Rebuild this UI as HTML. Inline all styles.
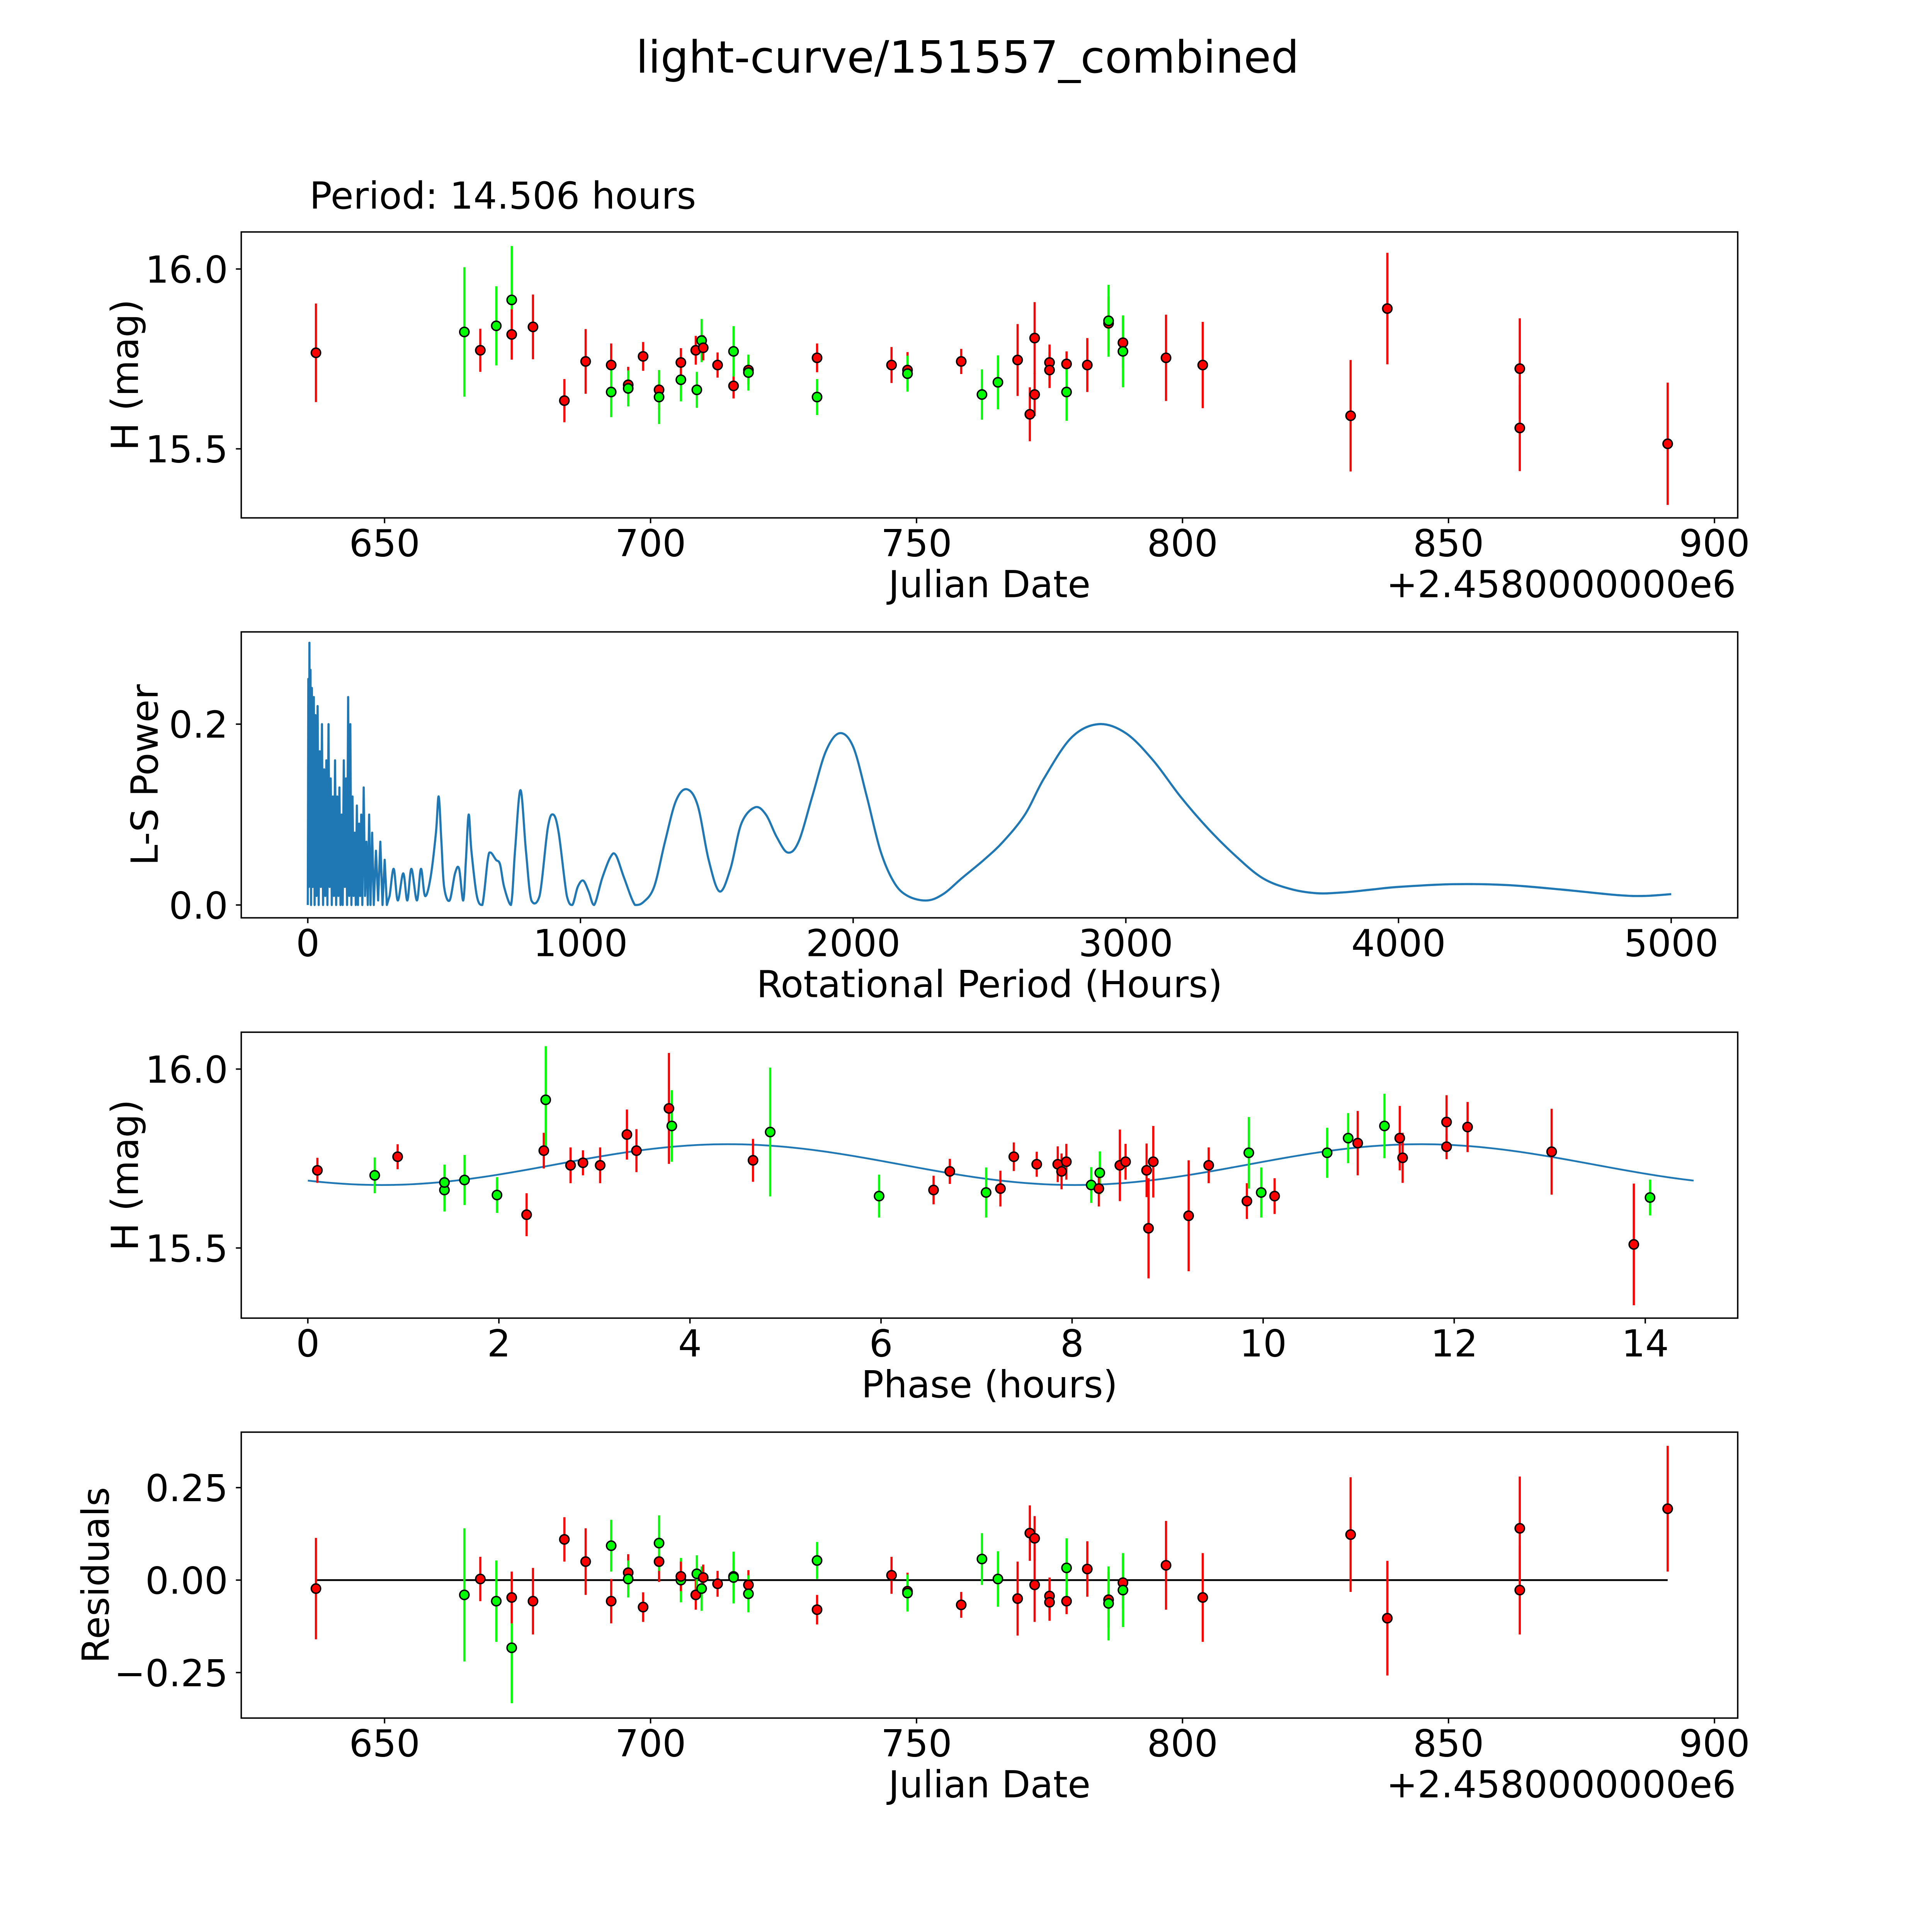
<!DOCTYPE html>
<html><head><meta charset="utf-8"><style>
html,body{margin:0;padding:0;background:#fff;overflow:hidden;}
svg{display:block;}
text{font-family:"DejaVu Sans","Liberation Sans",sans-serif;fill:#000;}
</style></head><body>
<svg id="fig" xmlns="http://www.w3.org/2000/svg" width="5400" height="5400" viewBox="0 0 5838 5838">
<rect x="0" y="0" width="5838" height="5838" fill="#fff"/>
<g id="root">
<text x="2707" y="203" font-size="124" text-anchor="middle">light-curve/151557_combined</text>
<text x="866" y="584" font-size="104">Period: 14.506 hours</text>
</g>
</svg>
<script>
// ---------- data ----------
const obsJD = [637.1,665.0,668.0,671.0,673.9,673.9,677.9,683.8,687.8,692.6,692.6,695.8,695.8,698.6,701.6,701.6,705.7,705.7,708.5,708.7,709.6,709.9,712.6,715.6,715.6,718.4,718.4,731.3,731.3,745.3,748.3,748.3,758.4,762.3,765.3,769.0,771.3,772.2,772.2,775.0,775.0,778.2,778.2,782.1,786.1,786.1,788.8,788.8,796.9,803.8,831.6,838.5,863.4,863.4,891.2];
const obsMag = [15.767,15.825,15.774,15.842,15.914,15.818,15.839,15.634,15.743,15.733,15.658,15.678,15.668,15.757,15.664,15.644,15.692,15.740,15.774,15.664,15.801,15.781,15.733,15.675,15.771,15.719,15.712,15.753,15.644,15.733,15.719,15.709,15.743,15.651,15.685,15.747,15.596,15.651,15.808,15.740,15.719,15.736,15.658,15.733,15.849,15.856,15.795,15.771,15.753,15.733,15.592,15.890,15.723,15.558,15.514];
const obsErr = [0.137,0.18,0.06,0.11,0.15,0.07,0.09,0.06,0.09,0.06,0.07,0.05,0.05,0.04,0.055,0.075,0.06,0.04,0.04,0.05,0.06,0.035,0.035,0.035,0.07,0.04,0.05,0.04,0.05,0.05,0.05,0.05,0.035,0.07,0.075,0.1,0.075,0.06,0.1,0.05,0.05,0.035,0.08,0.075,0.075,0.1,0.07,0.1,0.12,0.12,0.155,0.155,0.14,0.12,0.17];
const obsBand = ['r','g','r','g','g','r','r','r','r','r','g','r','g','r','r','g','g','r','r','g','g','r','r','r','g','r','g','r','g','r','r','g','r','g','g','r','r','r','r','r','r','r','g','r','r','g','r','g','r','r','r','r','r','r','r'];
const obsResid = [-0.023,-0.04,0.003,-0.057,-0.183,-0.047,-0.057,0.11,0.05,-0.057,0.093,0.02,0.003,-0.073,0.05,0.1,0,0.01,-0.04,0.017,-0.023,0.007,-0.01,0.01,0.007,-0.013,-0.037,-0.08,0.053,0.013,-0.03,-0.035,-0.067,0.057,0.003,-0.05,0.127,0.113,-0.013,-0.043,-0.06,-0.057,0.033,0.03,-0.053,-0.063,-0.007,-0.027,0.04,-0.047,0.123,-0.103,0.14,-0.027,0.193];

const phaseHours = [0.10,0.70,0.94,1.43,1.43,1.64,1.98,2.29,2.47,2.49,2.75,2.88,3.06,3.34,3.44,3.78,3.81,4.66,4.84,5.98,6.55,6.72,7.10,7.25,7.39,7.63,7.85,7.89,7.94,8.20,8.29,8.28,8.50,8.56,8.78,8.80,8.85,9.22,9.43,9.83,9.85,9.98,10.12,10.67,10.89,10.99,11.27,11.43,11.46,11.92,11.92,12.14,13.02,13.88,14.05];
const phaseMag = [15.717,15.703,15.755,15.662,15.683,15.690,15.648,15.593,15.772,15.914,15.731,15.738,15.731,15.817,15.772,15.890,15.841,15.745,15.824,15.645,15.662,15.714,15.655,15.666,15.755,15.734,15.734,15.714,15.741,15.676,15.710,15.666,15.731,15.741,15.717,15.555,15.741,15.590,15.731,15.631,15.766,15.655,15.645,15.766,15.807,15.793,15.841,15.807,15.752,15.783,15.852,15.838,15.769,15.510,15.641];
const phaseErr = [0.035,0.05,0.035,0.06,0.05,0.07,0.05,0.06,0.05,0.15,0.05,0.035,0.05,0.07,0.06,0.155,0.1,0.06,0.18,0.06,0.04,0.035,0.07,0.05,0.04,0.035,0.05,0.05,0.05,0.05,0.06,0.05,0.1,0.05,0.075,0.14,0.1,0.155,0.05,0.05,0.1,0.07,0.05,0.07,0.07,0.09,0.09,0.09,0.07,0.035,0.075,0.07,0.12,0.17,0.05];
const phaseBand = ['r','g','r','g','g','g','g','r','r','g','r','r','r','r','r','r','g','r','g','g','r','r','g','r','r','r','r','r','r','g','g','r','r','r','r','r','r','r','r','r','g','g','r','g','g','r','g','r','r','r','r','r','r','r','g'];
// fitted model parameters: [mean mag, amplitude, harmonic period (h), peak phase (h), full period (h)]
const fitParams = [15.733, 0.057, 7.253, 4.4, 14.506];

const lsPeriod = [0,2,4,6,8,10,12,15,18,22,25,28,32,36,40,44,48,52,56,60,64,68,72,76,80,84,88,92,96,100,104,108,112,116,120,124,128,132,136,140,144,148,152,156,160,164,168,172,176,180,184,188,192,196,200,205,210,215,220,225,230,236,242,250,258,266,274,282,290,300,315,330,350,365,380,400,415,430,450,470,480,490,500,520,540,555,570,580,590,600,620,640,660,670,690,705,720,745,760,780,800,820,850,880,900,920,950,970,990,1010,1030,1050,1080,1110,1130,1160,1200,1230,1270,1310,1350,1390,1430,1470,1510,1550,1590,1640,1680,1720,1760,1800,1850,1900,1950,2000,2050,2100,2150,2200,2270,2330,2400,2480,2550,2630,2700,2800,2900,3000,3100,3200,3300,3400,3500,3600,3700,3800,3900,4000,4200,4400,4600,4800,4900,5000];
const lsPower = [0,0.25,0.02,0.29,0.05,0.26,0,0.24,0.02,0.23,0,0.21,0.01,0.22,0,0.17,0.02,0.2,0,0.15,0.01,0.16,0,0.2,0.02,0.14,0,0.12,0.01,0.16,0,0.12,0.01,0.13,0,0.1,0,0.16,0.02,0.14,0,0.23,0.01,0.2,0,0.12,0.01,0.08,0,0.11,0,0.09,0.01,0.1,0,0.13,0.01,0.07,0,0.1,0,0.08,0,0.06,0.005,0.07,0,0.05,0,0.01,0.04,0.005,0.035,0.005,0.04,0.005,0.04,0.01,0.03,0.08,0.12,0.07,0.02,0.005,0.035,0.04,0.005,0.05,0.1,0.06,0.01,0,0.05,0.058,0.05,0.045,0.02,0,0.06,0.127,0.06,0.005,0.01,0.085,0.1,0.08,0.01,0,0.02,0.027,0.015,0,0.03,0.053,0.055,0.03,0,0.003,0.02,0.07,0.115,0.128,0.11,0.05,0.015,0.04,0.09,0.108,0.1,0.075,0.058,0.07,0.12,0.17,0.19,0.175,0.12,0.06,0.025,0.01,0.005,0.012,0.03,0.05,0.07,0.1,0.14,0.185,0.2,0.19,0.16,0.12,0.085,0.055,0.03,0.018,0.013,0.014,0.017,0.02,0.023,0.022,0.017,0.011,0.01,0.012];

const jdTicks = [650,700,750,800,850,900];
const magTicks = [16.0,15.5];
const lsXTicks = [0,1000,2000,3000,4000,5000];
const lsYTicks = [0.0,0.2];
const phaseTicks = [0,2,4,6,8,10,12,14];
const residTicks = [0.25,0.00,-0.25];

// ---------- helpers ----------
const NS = 'http://www.w3.org/2000/svg';
const svg = document.getElementById('root');
const L = 675, R = 4862, H = 800;
const tops = [649, 1768, 2888, 4007];
function mk(tag, attrs, parent) {
  const e = document.createElementNS(NS, tag);
  for (const k in attrs) e.setAttribute(k, attrs[k]);
  (parent || svg).appendChild(e);
  return e;
}
function lin(d0, d1, r0, r1) { return v => r0 + (v - d0) * (r1 - r0) / (d1 - d0); }
const colorOf = b => b === 'g' ? '#00ff00' : '#ff0000';

function panel(idx, xd, yd, name) {
  const top = tops[idx], bot = top + H;
  const g = mk('g', {});
  
  
  return { g, top, bot, x: lin(xd[0], xd[1], L, R), y: lin(yd[0], yd[1], bot, top) };
}
function frame(p) {
  const f = mk('rect', { x: L, y: p.top, width: R - L, height: H, fill: 'none', stroke: '#000', 'stroke-width': 4 }, p.g);
  
  
}
function xAxis(p, ticks, fmt, label, name) {
  ticks.forEach(t => {
    const x = p.x(t);
    const tk = mk('line', { x1: x, x2: x, y1: p.bot, y2: p.bot + 15, stroke: '#000', 'stroke-width': 4 }, p.g);
    
    
    const tl = mk('text', { x: x, y: p.bot + 107, 'font-size': 104, 'text-anchor': 'middle' }, p.g);
    tl.textContent = fmt(t);
    
    
  });
  const al = mk('text', { x: (L + R) / 2, y: p.bot + 222, 'font-size': 104, 'text-anchor': 'middle' }, p.g);
  al.textContent = label;
  
  
}
function offsetText(p) {
  const t = mk('text', { x: 4857, y: p.bot + 222, 'font-size': 104, 'text-anchor': 'end' }, p.g);
  t.textContent = '+2.4580000000e6';
  
  
}
function yAxis(p, ticks, fmt, label, lx, name) {
  ticks.forEach(t => {
    const y = p.y(t);
    const tk = mk('line', { x1: L - 15, x2: L, y1: y, y2: y, stroke: '#000', 'stroke-width': 4 }, p.g);
    
    
    const tl = mk('text', { x: 638, y: y + 38, 'font-size': 104, 'text-anchor': 'end' }, p.g);
    tl.textContent = fmt(t);
    
    
  });
  const cy = p.top + H / 2;
  const al = mk('text', { x: lx, y: cy, 'font-size': 104, 'text-anchor': 'middle', transform: `rotate(-90 ${lx} ${cy})` }, p.g);
  al.textContent = label;
  
  
}
function points(p, xs, ys, es, bands, name) {
  const g = mk('g', {}, p.g);
  
  
  xs.forEach((xv, i) => {
    const x = p.x(xv);
    const c = colorOf(bands[i]);
    const eb = mk('line', { x1: x, x2: x, y1: p.y(ys[i] - es[i]), y2: p.y(ys[i] + es[i]), stroke: c, 'stroke-width': 6 }, g);
    
    
  });
  xs.forEach((xv, i) => {
    const x = p.x(xv), y = p.y(ys[i]);
    const m = mk('circle', { cx: x, cy: y, r: 13, fill: colorOf(bands[i]), stroke: '#000', 'stroke-width': 4 }, g);
    
    
  });
}
const f1 = v => v.toFixed(1);

// ---------- panel 1: light curve ----------
const p1 = panel(0, [623.06, 904.37], [15.308, 16.103], 'light-curve-panel');
points(p1, obsJD, obsMag, obsErr, obsBand, 'light-curve-points');
frame(p1);
xAxis(p1, jdTicks, v => String(v), 'Julian Date', 'x-axis-title-julian-date');
offsetText(p1);
yAxis(p1, magTicks, f1, 'H (mag)', 386, 'y-axis-title-mag');

// ---------- panel 2: periodogram ----------
const p2 = panel(1, [-244, 5244], [-0.0142, 0.302], 'periodogram-panel');
(function () {
  const pts = lsPeriod.map((h, i) => [p2.x(h), p2.y(lsPower[i])]);
  let d = `M${pts[0][0]},${pts[0][1]}`;
  const y0 = p2.y(0);
  for (let i = 0; i < pts.length - 1; i++) {
    const p0 = pts[Math.max(0, i - 1)], a = pts[i], b = pts[i + 1], p3 = pts[Math.min(pts.length - 1, i + 2)];
    if (lsPeriod[i + 1] <= 300) { d += ` L${b[0]},${b[1]}`; continue; }
    const c1x = a[0] + (b[0] - p0[0]) / 6, c1y = Math.min(y0, a[1] + (b[1] - p0[1]) / 6);
    const c2x = b[0] - (p3[0] - a[0]) / 6, c2y = Math.min(y0, b[1] - (p3[1] - a[1]) / 6);
    d += ` C${c1x},${c1y} ${c2x},${c2y} ${b[0]},${b[1]}`;
  }
  const path = mk('path', { d: d, fill: 'none', stroke: '#1f77b4', 'stroke-width': 6, 'stroke-linejoin': 'round' }, p2.g);
  
  
})();
frame(p2);
xAxis(p2, lsXTicks, v => String(v), 'Rotational Period (Hours)', 'x-axis-title-period');
yAxis(p2, lsYTicks, f1, 'L-S Power', 441, 'y-axis-title-power');

// ---------- panel 3: phased curve ----------
const p3 = panel(2, [-0.697, 14.968], [15.304, 16.103], 'phased-curve-panel');
(function () {
  const [m0, amp, hp, pk, per] = fitParams;
  let d = '';
  for (let i = 0; i <= 300; i++) {
    const t = per * i / 300;
    const v = m0 + amp * Math.cos(2 * Math.PI * (t - pk) / hp);
    d += (i ? ' L' : 'M') + p3.x(t) + ',' + p3.y(v);
  }
  const path = mk('path', { d: d, fill: 'none', stroke: '#1f77b4', 'stroke-width': 5 }, p3.g);
  
  
})();
points(p3, phaseHours, phaseMag, phaseErr, phaseBand, 'phased-points');
frame(p3);
xAxis(p3, phaseTicks, v => String(v), 'Phase (hours)', 'x-axis-title-phase');
yAxis(p3, magTicks, f1, 'H (mag)', 386, 'y-axis-title-mag-phased');

// ---------- panel 4: residuals ----------
const p4 = panel(3, [623.06, 904.37], [-0.373, 0.400], 'residuals-panel');
(function () {
  const zl = mk('line', { x1: p4.x(obsJD[0]), x2: p4.x(obsJD[obsJD.length - 1]), y1: p4.y(0), y2: p4.y(0), stroke: '#000', 'stroke-width': 5 }, p4.g);
  
  
})();
points(p4, obsJD, obsResid, obsErr, obsBand, 'residual-points');
frame(p4);
xAxis(p4, jdTicks, v => String(v), 'Julian Date', 'x-axis-title-julian-date-residuals');
offsetText(p4);
yAxis(p4, residTicks, v => (v < 0 ? '\u2212' : '') + Math.abs(v).toFixed(2), 'Residuals', 304, 'y-axis-title-residuals');
</script>
</body></html>
